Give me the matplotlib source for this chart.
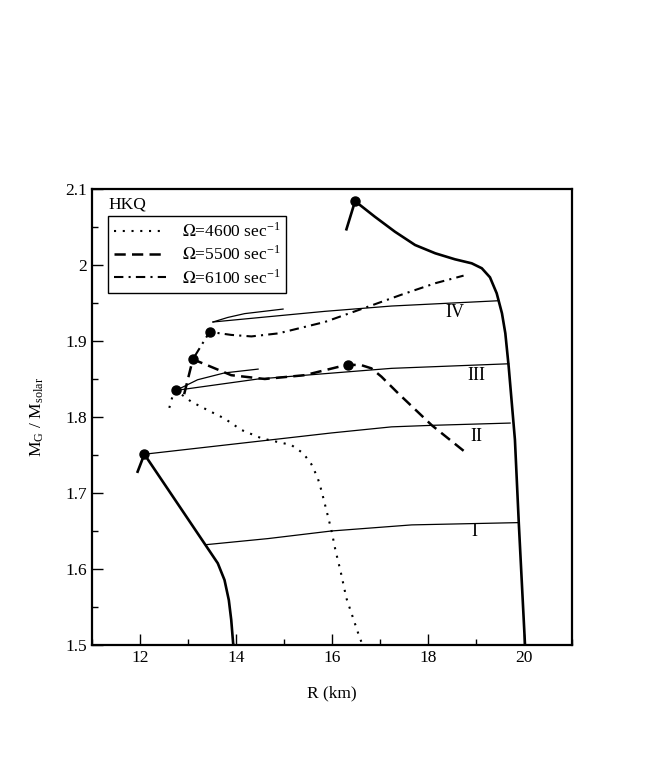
import matplotlib
matplotlib.use("Agg")
import matplotlib.pyplot as plt
from matplotlib.ticker import MultipleLocator

plt.rcParams['font.family'] = ['Liberation Serif', 'DejaVu Serif']
plt.rcParams['mathtext.fontset'] = 'stix'

# static limits (thick curves)
left_R = [11.95, 12.09, 13.62, 13.76, 13.85, 13.90, 13.94, 13.95]
left_M = [1.728, 1.751, 1.6075, 1.5855, 1.559, 1.533, 1.502, 1.500]
right_R = [16.30, 16.48, 16.89, 17.31, 17.73, 18.15, 18.56, 18.91, 19.12, 19.29, 19.43,
           19.54, 19.61, 19.68, 19.81, 19.89, 20.02]
right_M = [2.047, 2.084, 2.0636, 2.0438, 2.0263, 2.0154, 2.0075, 2.0022, 1.9957, 1.9838, 1.9628,
           1.9364, 1.9101, 1.8662, 1.770, 1.661, 1.500]

# constant baryon mass sequences
I_R = [13.38, 14.67, 15.99, 17.66, 19.89]
I_M = [1.632, 1.640, 1.650, 1.658, 1.661]
II_R = [12.09, 14.74, 15.99, 17.24, 18.08, 19.71]
II_M = [1.751, 1.770, 1.779, 1.787, 1.789, 1.792]
III_R = [12.75, 14.46, 17.24, 19.68]
III_M = [1.835, 1.850, 1.864, 1.870]
IIIb_R = [12.75, 13.20, 13.76, 14.46]
IIIb_M = [1.835, 1.849, 1.858, 1.863]
IV_R = [13.52, 15.85, 17.24, 19.48]
IV_M = [1.925, 1.939, 1.946, 1.953]
IVb_R = [13.52, 13.83, 14.18, 14.98]
IVb_M = [1.925, 1.931, 1.936, 1.942]

# rotating sequences
o46_R = [12.61, 12.68, 12.75, 13.07, 13.41, 13.76, 14.11, 14.53, 14.84, 15.15, 15.40, 15.57,
         15.70, 15.78, 15.85, 15.92, 15.99, 16.07, 16.18, 16.30, 16.44, 16.58, 16.64]
o46_M = [1.812, 1.828, 1.835, 1.820, 1.809, 1.798, 1.783, 1.772, 1.7675, 1.7632, 1.7522, 1.7378,
         1.7201, 1.703, 1.6855, 1.668, 1.650, 1.625, 1.5964, 1.5614, 1.5351, 1.5088, 1.500]
o55_R = [12.92, 13.10, 13.90, 14.60, 15.43, 16.33, 16.62, 16.82, 17.03, 17.38, 18.08, 18.77]
o55_M = [1.830, 1.876, 1.855, 1.850, 1.855, 1.869, 1.868, 1.864, 1.853, 1.831, 1.789, 1.754]
o61_R = [13.14, 13.45, 13.90, 14.32, 14.88, 15.85, 16.70, 17.45, 18.15, 18.74]
o61_M = [1.880, 1.912, 1.908, 1.906, 1.910, 1.925, 1.944, 1.961, 1.976, 1.986]

dot_R = [12.09, 12.75, 13.10, 13.45, 16.33, 16.48]
dot_M = [1.751, 1.835, 1.876, 1.912, 1.869, 2.084]

labels = ['I', 'II', 'III', 'IV']
lab_R = [18.96, 19.0, 19.0, 18.56]
lab_M = [1.649, 1.774, 1.854, 1.938]

fig = plt.figure(figsize=(6.54, 7.63), dpi=100)
ax = fig.add_axes([0.1407, 0.1547, 0.734, 0.5976])

ax.plot(left_R, left_M, 'k-', lw=1.9)
ax.plot(right_R, right_M, 'k-', lw=1.9)
for r, m in [(I_R, I_M), (II_R, II_M), (III_R, III_M), (IIIb_R, IIIb_M), (IV_R, IV_M), (IVb_R, IVb_M)]:
    ax.plot(r, m, 'k-', lw=0.9)

ax.plot(o46_R, o46_M, color='k', ls=(0, (1, 3.2)), lw=1.5, label=r'$\Omega$=4600 sec$^{\mathregular{-1}}$')
ax.plot(o55_R, o55_M, color='k', ls=(0, (4.5, 2.5)), lw=1.8, label=r'$\Omega$=5500 sec$^{\mathregular{-1}}$')
ax.plot(o61_R, o61_M, color='k', ls=(0, (4.5, 2.5, 1, 2.5)), lw=1.5, label=r'$\Omega$=6100 sec$^{\mathregular{-1}}$')
ax.plot(dot_R, dot_M, 'ko', ms=6.5, ls='none')

for t, r, m in zip(labels, lab_R, lab_M):
    ax.text(r, m, t, fontsize=13, ha='center', va='center')

ax.text(0.035, 0.967, 'HKQ', transform=ax.transAxes, fontsize=12.5, va='center')

leg = ax.legend(loc='upper left', bbox_to_anchor=(0.033, 0.94), fontsize=12.5,
                frameon=True, fancybox=False, framealpha=1, edgecolor='k',
                handlelength=3.0, borderpad=0.35, labelspacing=0.25, handletextpad=0.9,
                borderaxespad=0)
leg.get_frame().set_linewidth(1.0)

ax.set_xlim(11, 21)
ax.set_ylim(1.5, 2.1)
ax.xaxis.set_major_locator(MultipleLocator(2))
ax.xaxis.set_minor_locator(MultipleLocator(1))
ax.yaxis.set_major_locator(MultipleLocator(0.1))
ax.yaxis.set_minor_locator(MultipleLocator(0.05))
ax.set_yticks([1.5, 1.6, 1.7, 1.8, 1.9, 2.0, 2.1])
ax.set_yticklabels(['1.5', '1.6', '1.7', '1.8', '1.9', '2', '2.1'])
ax.tick_params(which='both', direction='in', top=False, right=False, labelsize=12.5)
ax.tick_params(which='major', length=8, width=1)
ax.tick_params(which='minor', length=4, width=1)
for s in ax.spines.values():
    s.set_linewidth(1.6)

ax.set_xlabel('R (km)', fontsize=12.5, labelpad=14)
ax.set_ylabel(r'M$_{\mathregular{G}}$ / M$_{\mathregular{solar}}$', fontsize=12.5, labelpad=14)

fig.savefig('out.png', dpi=100)
